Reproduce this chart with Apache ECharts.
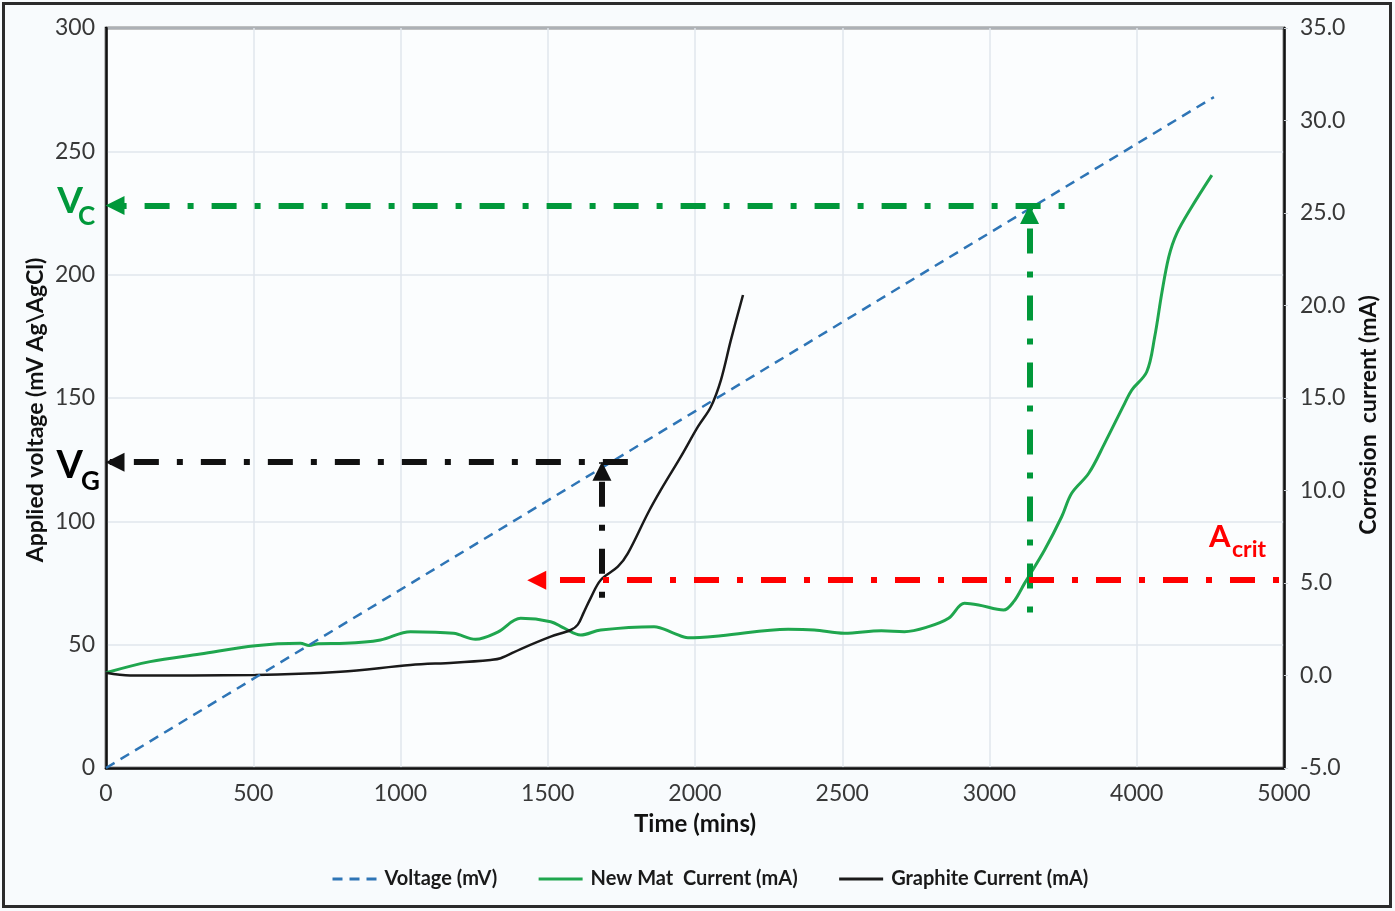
<!DOCTYPE html>
<html>
<head>
<meta charset="utf-8">
<script src="https://cdn.jsdelivr.net/npm/echarts@6/dist/echarts.min.js"></script>
<style>
  html, body { margin: 0; padding: 0; background: #f8fbfd; }
  #chart { width: 1395px; height: 911px; }
</style>
</head>
<body>
<div id="chart"></div>
<script>
// ---- data ----
const timeTickLabels = ['0', '500', '1000', '1500', '2000', '2500', '3000', '4000', '5000'];

// applied voltage ramp (mV), time in mins
const voltage = [[0, 0], [3762, 272]];

// corrosion current (mA) vs time (mins)
const newMatCurrent = [
  [0, 0.15], [150, 0.75], [320, 1.16], [507, 1.61], [660, 1.74], [690, 1.62], [720, 1.72],
  [813, 1.74], [932, 1.92], [1034, 2.37], [1180, 2.28], [1255, 1.96], [1330, 2.35],
  [1408, 3.09], [1510, 2.91], [1554, 2.57], [1612, 2.19], [1680, 2.46], [1861, 2.64],
  [1929, 2.28], [1976, 2.04], [2088, 2.15], [2316, 2.5], [2405, 2.46], [2507, 2.28],
  [2633, 2.42], [2711, 2.37], [2793, 2.64], [2861, 3.09], [2915, 3.9], [2963, 3.81],
  [3048, 3.54], [3082, 3.99], [3119, 4.98], [3187, 6.78], [3245, 8.58], [3279, 9.85],
  [3337, 10.93], [3391, 12.55], [3459, 14.71], [3483, 15.43], [3534, 16.42], [3561, 18.31],
  [3585, 20.66], [3609, 22.64], [3636, 23.9], [3687, 25.34], [3755, 27.05]
];
const graphiteCurrent = [
  [0, 0.15], [82, 0.0], [507, 0.03], [796, 0.2], [1034, 0.57], [1180, 0.69], [1306, 0.84],
  [1340, 0.93], [1408, 1.43], [1510, 2.1], [1578, 2.46], [1602, 2.75], [1622, 3.4],
  [1646, 4.2], [1680, 5.16], [1738, 5.88], [1772, 6.6], [1840, 8.77], [1884, 10.03],
  [1952, 11.83], [2010, 13.45], [2054, 14.53], [2088, 15.97], [2122, 18.14], [2163, 20.57]
];

// critical voltages / current read-offs
const vCritNew = 228, tCritNew = 3136, tCritNewEnd = 3255, vCritNewBase = 63;
const vCritGraphite = 124, tCritGraphite = 1684, tCritGraphiteEnd = 1772, vCritGraphiteBase = 69;
const aCrit = 5.15, tACritStart = 3983, tACritEnd = 1432;

// ---- styling ----
const FONT = 'Lato, "Open Sans", sans-serif';
const C_BLUE = '#2e75b6';
const C_GREEN_LINE = '#1fa64e';
const C_GREEN_NOTE = '#00983a';
const C_RED = '#ff0000';
const C_BLACK = '#111111';
const DASH_DOT = [6, 18, 25, 18];
const DOT_DASH_START = [25, 18, 6, 18];

const arrowLine = {
  silent: true,
  symbol: ['none', 'triangle'],
  symbolSize: 19,
  symbolOffset: [0, [0, 9]],
  label: { show: false },
  emphasis: { disabled: true }
};

function noteStyle(color, type) {
  return { color: color, width: 6, type: type, opacity: 1 };
}

const chart = echarts.init(document.getElementById('chart'));

const option = {
  animation: false,
  backgroundColor: '#f8fbfd',
  textStyle: { fontFamily: FONT },
  grid: {
    left: 106, right: 111, top: 28, bottom: 143,
    show: true, borderColor: '#111', borderWidth: 2.5, backgroundColor: '#fbfdfe',
    outerBoundsMode: 'none'
  },
  legend: {
    left: 326, top: 864,
    itemWidth: 44, itemHeight: 14, itemGap: 40,
    itemStyle: { opacity: 0 },
    lineStyle: { width: 3 },
    textStyle: { fontFamily: FONT, fontSize: 20, fontWeight: 'bold', color: '#1a1a1a', padding: [0, 0, 0, 3] },
    data: ['Voltage (mV)', 'New Mat  Current (mA)', 'Graphite Current (mA)']
  },
  xAxis: {
    type: 'value', min: 0, max: 4000, interval: 500,
    name: 'Time (mins)', nameLocation: 'middle', nameGap: 44, nameMoveOverlap: false,
    nameTextStyle: { fontFamily: FONT, fontSize: 24, fontWeight: 'bold', color: '#111' },
    axisLine: { show: true, lineStyle: { color: '#111', width: 2.5 } },
    axisTick: { show: false },
    axisLabel: {
      margin: 14, fontSize: 23, color: '#383838', fontFamily: FONT,
      formatter: (v) => timeTickLabels[Math.round(v / 500)]
    },
    splitLine: { show: true, lineStyle: { color: '#e1e6ec', width: 1.5 } }
  },
  yAxis: [
    {
      type: 'value', min: 0, max: 300, interval: 50, position: 'left',
      name: 'Applied voltage (mV Ag\\AgCl)', nameLocation: 'middle', nameGap: 59,
      nameRotate: 90, nameMoveOverlap: false,
      nameTextStyle: { fontFamily: FONT, fontSize: 23, fontWeight: 'bold', color: '#111', padding: [0, 24, 0, 0] },
      axisLine: { show: true, lineStyle: { color: '#111', width: 2.5 } },
      axisTick: { show: false },
      axisLabel: { margin: 11, fontSize: 23, color: '#383838', fontFamily: FONT },
      splitLine: { show: true, lineStyle: { color: '#e1e6ec', width: 1.5 } }
    },
    {
      type: 'value', min: -5, max: 35, interval: 5, position: 'right',
      name: 'Corrosion  current (mA)', nameLocation: 'middle', nameGap: 73,
      nameRotate: 90, nameMoveOverlap: false,
      nameTextStyle: { fontFamily: FONT, fontSize: 23, fontWeight: 'bold', color: '#111', padding: [0, 34, 0, 0] },
      axisLine: { show: true, lineStyle: { color: '#111', width: 2.5 } },
      axisTick: { show: true, length: 4, lineStyle: { color: '#cfd4da', width: 1 } },
      axisLabel: {
        margin: 16, fontSize: 23, color: '#383838', fontFamily: FONT,
        formatter: (v) => v.toFixed(1)
      },
      splitLine: { show: false }
    }
  ],
  series: [
    {
      name: 'Voltage (mV)', type: 'line', yAxisIndex: 0, data: voltage,
      symbol: 'none', z: 3,
      lineStyle: { color: C_BLUE, width: 2.5, type: [10, 7] },
      itemStyle: { color: C_BLUE },
      markLine: Object.assign({}, arrowLine, {
        data: [
          [{ coord: [tCritNewEnd, vCritNew], lineStyle: noteStyle(C_GREEN_NOTE, DASH_DOT) }, { coord: [0, vCritNew] }],
          [{ coord: [tCritNew, vCritNewBase], lineStyle: noteStyle(C_GREEN_NOTE, DASH_DOT) }, { coord: [tCritNew, vCritNew] }],
          [{ coord: [tCritGraphiteEnd, vCritGraphite], lineStyle: noteStyle(C_BLACK, DOT_DASH_START) }, { coord: [0, vCritGraphite] }],
          [{ coord: [tCritGraphite, vCritGraphiteBase], lineStyle: noteStyle(C_BLACK, DASH_DOT) }, { coord: [tCritGraphite, vCritGraphite] }]
        ]
      })
    },
    {
      name: 'New Mat  Current (mA)', type: 'line', yAxisIndex: 1, data: newMatCurrent,
      symbol: 'none', smooth: 0.35, z: 2,
      lineStyle: { color: C_GREEN_LINE, width: 3 },
      itemStyle: { color: C_GREEN_LINE },
      markLine: Object.assign({}, arrowLine, {
        data: [
          [{ coord: [tACritStart, aCrit], lineStyle: noteStyle(C_RED, DASH_DOT) }, { coord: [tACritEnd, aCrit] }]
        ]
      })
    },
    {
      name: 'Graphite Current (mA)', type: 'line', yAxisIndex: 1, data: graphiteCurrent,
      symbol: 'none', smooth: 0.35, z: 2,
      lineStyle: { color: '#1a1a1a', width: 2.5 },
      itemStyle: { color: '#1a1a1a' }
    }
  ]
};

chart.setOption(option);

// labels for the read-off lines, placed from the axis scales
const axisX = chart.convertToPixel({ xAxisIndex: 0 }, 0);
const yVc = chart.convertToPixel({ yAxisIndex: 0 }, vCritNew);
const yVg = chart.convertToPixel({ yAxisIndex: 0 }, vCritGraphite);
const yAc = chart.convertToPixel({ yAxisIndex: 1 }, aCrit);
const xAcStart = chart.convertToPixel({ xAxisIndex: 0 }, tACritStart);

function txt(text, x, y, size, color, align) {
  return {
    type: 'text', z: 100, silent: true,
    style: {
      text: text, x: x, y: y, fill: color, align: align, verticalAlign: 'middle',
      font: 'bold ' + size + 'px ' + FONT
    }
  };
}

chart.setOption({
  graphic: [
    {
      type: 'rect', silent: true, z: 100,
      shape: { x: 3.5, y: 3.5, width: 1387, height: 903 },
      style: { fill: 'none', stroke: '#2b2b2b', lineWidth: 3 }
    },
    txt('V', axisX - 23, yVc - 5, 37, C_GREEN_NOTE, 'right'),
    txt('C', axisX - 28, yVc + 11, 26, C_GREEN_NOTE, 'left'),
    txt('V', axisX - 23, yVg + 4, 38, '#000', 'right'),
    txt('G', axisX - 25, yVg + 19, 26, '#000', 'left'),
    txt('A', xAcStart - 70, yAc - 43, 31, C_RED, 'left'),
    txt('crit', xAcStart - 47, yAc - 31, 23, C_RED, 'left')
  ]
});
</script>
</body>
</html>
